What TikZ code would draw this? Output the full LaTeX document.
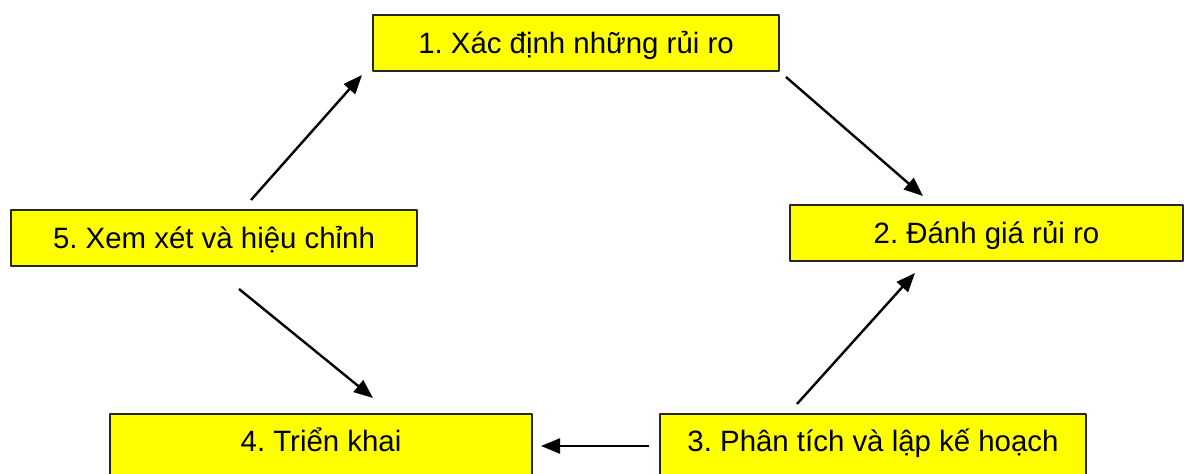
\documentclass[tikz,border=0pt]{standalone}
\usepackage{fontspec}
\setmainfont{Liberation Sans}
\usetikzlibrary{arrows.meta}
\definecolor{stepyellow}{RGB}{255,255,0}
\frenchspacing
\tikzset{
    stepbox/.style={rectangle, draw=black!85, line width=1pt, fill=stepyellow, inner sep=0pt,
        minimum height=28pt, text height=10.5pt, text depth=0pt,
        font=\fontsize{14.7}{17}\selectfont},
    lowbox/.style={stepbox, anchor=north, minimum height=33pt, text depth=6pt},
    flow/.style={-{Triangle[length=9.5pt,width=7.5pt]}, line width=1.2pt},
}
\begin{document}
\begin{tikzpicture}[x=0.5pt, y=-0.5pt, line join=round]
                \clip (0,0) rectangle (1184,474);
                \node[stepbox, minimum width=203pt] (s1) at (576,43) {1. Xác định những rủi ro};
                \node[stepbox, minimum width=196.5pt] (s2) at (986.5,233) {2. Đánh giá rủi ro};
                \node[lowbox, minimum width=213pt] (s3) at (873,413) {3. Phân tích và lập kế hoạch};
                \node[lowbox, minimum width=211pt] (s4) at (321,413) {4. Triển khai};
                \node[stepbox, minimum width=203pt] (s5) at (214,238) {5. Xem xét và hiệu chỉnh};
                % loose arrow ends
                \coordinate (a51) at (251,200);  \coordinate (a15) at (362,75);
                \coordinate (a12) at (786,77);   \coordinate (a21) at (923,196);
                \coordinate (a32) at (797,404);  \coordinate (a23) at (915,273);
                \coordinate (a34) at (649,446);  \coordinate (a43) at (541,446);
                \coordinate (a54) at (239,289);  \coordinate (a45) at (373,398);
                \draw[flow] (a51) -- (a15);
                \draw[flow] (a12) -- (a21);
                \draw[flow] (a32) -- (a23);
                \draw[flow] (a34) -- (a43);
                \draw[flow] (a54) -- (a45);
\end{tikzpicture}
\end{document}
